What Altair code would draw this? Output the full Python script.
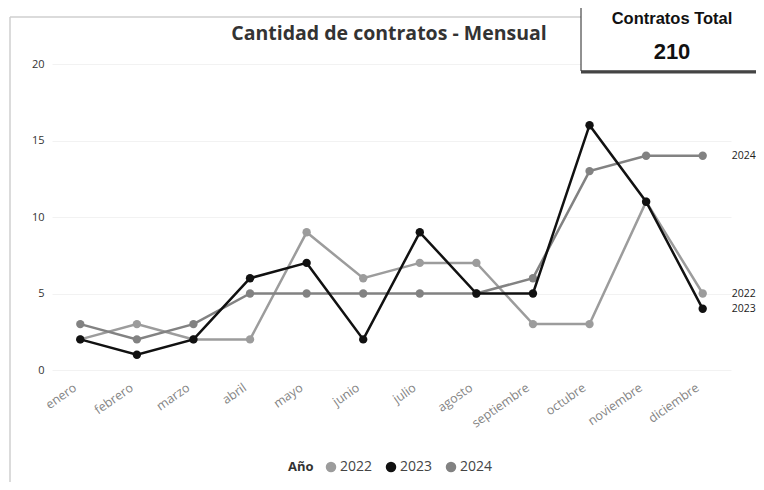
import altair as alt
import pandas as pd

meses = ["enero", "febrero", "marzo", "abril", "mayo", "junio", "julio",
         "agosto", "septiembre", "octubre", "noviembre", "diciembre"]
anios = ["2022", "2023", "2024"]
v2022 = [2, 3, 2, 2, 9, 6, 7, 7, 3, 3, 11, 5]
v2023 = [2, 1, 2, 6, 7, 2, 9, 5, 5, 16, 11, 4]
v2024 = [3, 2, 3, 5, 5, 5, 5, 5, 6, 13, 14, 14]
colores = ["#9c9c9c", "#111111", "#828282"]
titulo = "Cantidad de contratos - Mensual"
kpi_titulo = "Contratos Total"

series = {"2022": v2022, "2023": v2023, "2024": v2024}
rows = []
for a in anios:
    for m, v in zip(meses, series[a]):
        rows.append({"Mes": m, "Año": a, "Contratos": v})
df = pd.DataFrame(rows)
total = int(df["Contratos"].sum())

W, H = 679, 306

color = alt.Color("Año:N", scale=alt.Scale(domain=anios, range=colores),
                  legend=alt.Legend(orient="none", legendX=236, legendY=396,
                                    direction="horizontal", titleOrient="left",
                                    title="Año", titleFontSize=13, titleFont="Open Sans",
                                    titleFontWeight="bold", titleColor="#333",
                                    labelFontSize=14, labelFont="Open Sans", labelColor="#444",
                                    symbolType="circle", symbolSize=110, symbolStrokeWidth=0,
                                    labelOffset=2, columnPadding=11, titlePadding=10))

x = alt.X("Mes:N", sort=meses, title=None,
          axis=alt.Axis(labelAngle=-35, labelFontSize=12.5, labelFont="Open Sans",
                        labelColor="#848484", domain=False, ticks=False, labelPadding=11,
                        labelOffset=-9, grid=False))
y = alt.Y("Contratos:Q", title=None, scale=alt.Scale(domain=[0, 20]),
          axis=alt.Axis(values=[0, 5, 10, 15, 20], labelFontSize=11, labelFont="Open Sans",
                        labelColor="#333", domain=False, ticks=False, labelPadding=8,
                        grid=True, gridColor="#f2f2f2"))

base = alt.Chart(df)
layers = []
for a in ["2022", "2024", "2023"]:
    sub = base.transform_filter(alt.datum["Año"] == a)
    layers.append(sub.mark_line(strokeWidth=2.5).encode(x=x, y=y, color=color))
    layers.append(sub.mark_circle(size=70, opacity=1).encode(x=x, y=y, color=color))

ends = base.transform_filter(alt.datum.Mes == "diciembre").mark_text(
    align="left", dx=29, fontSize=10.5, font="Open Sans", color="#222"
).encode(x=x, y=y, text="Año:N")

one = alt.Chart(pd.DataFrame({"k": [0]}))
frame_left = one.mark_rule(color="#cfcfcf", strokeWidth=1.5).encode(
    x=alt.value(-42), y=alt.value(-47), y2=alt.value(430))
frame_top = one.mark_rule(color="#cfcfcf", strokeWidth=1.5).encode(
    x=alt.value(-42), x2=alt.value(529), y=alt.value(-47))
title_txt = one.mark_text(fontSize=19.5, font="Open Sans", fontWeight="bold",
                          color="#333333").encode(
    x=alt.value(337), y=alt.value(-30), text=alt.value(titulo))
box = one.mark_rect(fill="white", stroke="#222", strokeWidth=1).encode(
    x=alt.value(529), x2=alt.value(709), y=alt.value(-90), y2=alt.value(7))
shadow = one.mark_rule(color="#444", strokeWidth=3).encode(
    x=alt.value(529), x2=alt.value(709), y=alt.value(8))
kpi1 = one.mark_text(fontSize=16.5, font="Liberation Sans", fontWeight="bold",
                     color="#111").encode(
    x=alt.value(620), y=alt.value(-45), text=alt.value(kpi_titulo))
kpi2 = one.mark_text(fontSize=22, font="Liberation Sans", fontWeight="bold",
                     color="#111").encode(
    x=alt.value(620), y=alt.value(-12), text=alt.value(str(total)))

chart = alt.layer(frame_left, frame_top, *layers, ends, title_txt, box, shadow, kpi1, kpi2).properties(
    width=W, height=H,
    autosize=alt.AutoSizeParams(type="none"),
    padding={"left": 44, "top": 56, "right": 25, "bottom": 112},
    background="white",
).configure_view(stroke=None)

chart.save("out.html", embed_options={"renderer": "svg", "actions": False})
